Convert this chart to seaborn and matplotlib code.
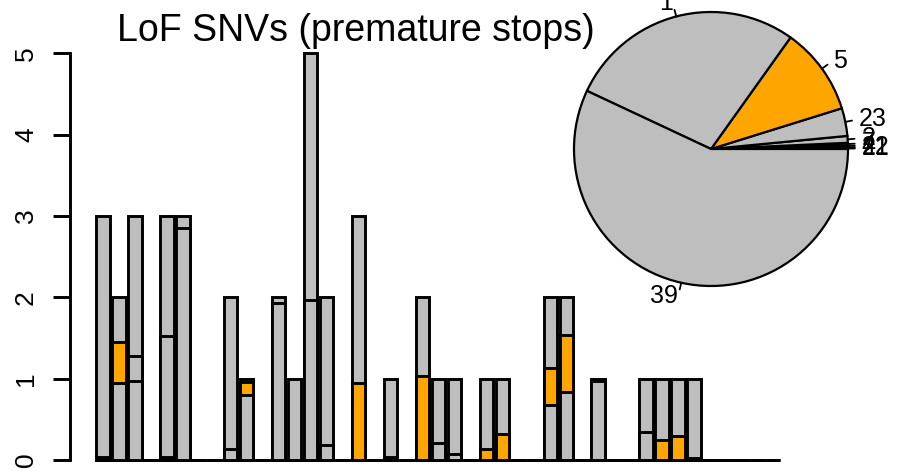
import numpy as np
import pandas as pd
import matplotlib
matplotlib.use("Agg")
import matplotlib.pyplot as plt
import seaborn as sns

GRAY = "#BEBEBE"
ORANGE = "#FFA500"
nan = np.nan

# 43 bar slots, stacked segments (units of the y axis)
slots = list(range(43))
totals = [3, 2, 3, 0, 3, 3, 0, 0, 2, 1, 0, 2, 1, 5, 2, 0, 3, 0, 1, 0, 2, 1,
          1, 0, 1, 1, 0, 0, 2, 2, 0, 1, 0, 0, 1, 1, 1, 1, 0, 0, 0, 0, 0]
orange_top = {1: 1.45, 9: 0.96, 16: 0.95, 20: 1.03, 24: 0.13, 25: 0.32,
              28: 1.13, 29: 1.54, 35: 0.24, 36: 0.29}
orange_bottom = {1: 0.95, 9: 0.80, 28: 0.68, 29: 0.83}
split_upper = {2: 1.28, 4: 1.53, 5: 2.85, 8: 0.13, 11: 1.93, 13: 1.97,
               14: 0.18, 21: 0.21, 22: 0.07, 31: 0.97, 34: 0.35}
split_lower = {2: 0.97}
dark_base = {0: 0.04, 4: 0.04, 18: 0.04, 37: 0.03}

pie_labels = ["21", "22", "4", "7", "2", "23", "5", "1", "39"]
pie_shares = [0.4, 0.6, 0.6, 1.0, 2.9, 11.8, 37.2, 100.4, 205.1]
pie_colors = [ORANGE if lab == "5" else GRAY for lab in pie_labels]

sns.set_style("white")
plt.rcParams["font.family"] = ["Liberation Sans", "DejaVu Sans"]
plt.rcParams["text.color"] = "black"
plt.rcParams["ytick.color"] = "black"
plt.rcParams["ytick.labelcolor"] = "black"

fig = plt.figure(figsize=(8.97, 4.76), dpi=100)
ax = fig.add_axes([0.07804, 0.00798, 0.8202, 0.9141])

LW = 2.1


def layer(values, color):
    if isinstance(values, dict):
        values = [values.get(s, nan) for s in slots]
    df = pd.DataFrame({"slot": slots, "h": values}).dropna()
    sns.barplot(data=df, x="slot", y="h", order=slots, color=color,
                saturation=1, width=1 / 1.2, edgecolor="black",
                linewidth=LW, errorbar=None, ax=ax)


# baseline under the whole run of bars (zero-height bars in the original)
half = 0.5 / 1.2
ax.plot([slots[0] - half, slots[-1] + half], [0, 0], color="black", lw=LW,
        solid_capstyle="butt", zorder=0.5)

# draw from the highest boundary down so each shorter bar covers the lower part
layer(totals, GRAY)
layer(orange_top, ORANGE)
layer(split_upper, GRAY)
layer(split_lower, GRAY)
layer(orange_bottom, GRAY)
layer(dark_base, "black")

ax.set_xlim(-2.066, 44)
ax.set_ylim(-0.15, 5.2)
ax.set_xlabel("")
ax.set_ylabel("")
ax.set_xticks([])
ax.set_yticks(range(6))
ax.set_yticklabels([str(v) for v in range(6)], fontsize=19, color="black")
ax.tick_params(axis="y", labelrotation=90, length=12, width=LW, pad=11,
               left=True, colors="black")
for lab in ax.get_yticklabels():
    lab.set_va("center")
for side in ["top", "right", "bottom"]:
    ax.spines[side].set_visible(False)
ax.spines["left"].set_bounds(0, 5)
ax.spines["left"].set_linewidth(LW)
ax.spines["left"].set_color("black")

fig.text(356 / 897, (476 - 41) / 476, "LoF SNVs (premature stops)",
         ha="center", va="baseline", fontsize=27, color="black")

# inset pie
pax = fig.add_axes([574 / 897, (476 - 149 - 137) / 476, 274 / 897, 274 / 476])
wedges, texts = pax.pie(pie_shares, labels=pie_labels, colors=pie_colors,
                        startangle=0, counterclock=True, labeldistance=1.1,
                        wedgeprops={"edgecolor": "black", "linewidth": 1.6},
                        textprops={"fontsize": 18, "color": "black"})
for w in wedges:
    mid = np.deg2rad((w.theta1 + w.theta2) / 2)
    pax.plot([np.cos(mid), 1.05 * np.cos(mid)], [np.sin(mid), 1.05 * np.sin(mid)],
             color="black", lw=1.3, clip_on=False)
pax.set_xlim(-1, 1)
pax.set_ylim(-1, 1)
pax.set_aspect("equal")
pax.axis("off")

fig.savefig("out.png", dpi=100)
